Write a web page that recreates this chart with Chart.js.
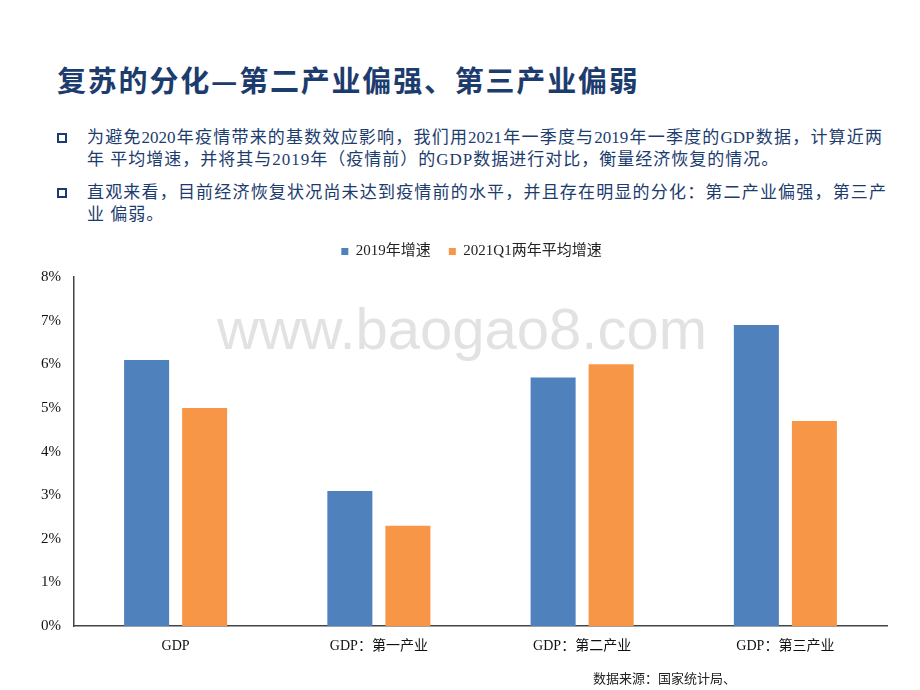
<!DOCTYPE html>
<html>
<head>
<meta charset="utf-8">
<script src="https://cdn.jsdelivr.net/npm/chart.js@4/dist/chart.umd.min.js"></script>
<style>
  html, body { margin: 0; padding: 0; background: #fff; overflow: hidden; }
  body { width: 920px; height: 690px; position: relative; }
  .title {
    position: absolute; left: 57px; top: 58px;
    font: bold 29px "Noto Sans CJK SC", sans-serif; color: #1d3c6e;
    white-space: nowrap; letter-spacing: 1.8px;
  }
  .bullet {
    position: absolute; left: 57px; width: 6px; height: 6px;
    border: 2px solid #1d3c6e;
  }
  .line {
    position: absolute; left: 87px;
    font: 17px "Liberation Serif", "Noto Sans CJK SC", serif; color: #1d3c6e;
    white-space: nowrap; line-height: 20px; letter-spacing: 1px;
  }
  .just { width: 795px; text-align: justify; text-align-last: justify; letter-spacing: 0; }
  .watermark {
    position: absolute; left: 217px; top: 295px;
    font: 58px "Liberation Sans", Arial, sans-serif; color: rgba(190,190,190,0.45);
    white-space: nowrap; pointer-events: none;
  }
  .source {
    position: absolute; left: 593px; top: 668px;
    font: 13px "Noto Sans CJK SC", sans-serif; color: #222;
    white-space: nowrap;
  }
  #wrap { position: absolute; left: 22px; top: 226px; width: 898px; height: 450px; }
</style>
</head>
<body>
<div class="title">复苏的分化—第二产业偏强、第三产业偏弱</div>

<div class="bullet" style="top:133px"></div>
<div class="line just" style="top:128px">为避免2020年疫情带来的基数效应影响，我们用2021年一季度与2019年一季度的GDP数据，计算近两</div>
<div class="line" style="top:150px">年 平均增速，并将其与2019年（疫情前）的GDP数据进行对比，衡量经济恢复的情况。</div>

<div class="bullet" style="top:188px"></div>
<div class="line just" style="top:183px; width:799px">直观来看，目前经济恢复状况尚未达到疫情前的水平，并且存在明显的分化：第二产业偏强，第三产</div>
<div class="line" style="top:205px">业 偏弱。</div>

<div id="wrap"><canvas id="chart"></canvas></div>
<div class="watermark">www.baogao8.com</div>
<div class="source">数据来源：国家统计局、</div>

<script>
const categories = ['GDP', 'GDP：第一产业', 'GDP：第二产业', 'GDP：第三产业'];
const growth2019 = [6.1, 3.1, 5.7, 6.9];
const avg2021Q1 = [5.0, 2.3, 6.0, 4.7];
const yTicks = [0, 1, 2, 3, 4, 5, 6, 7, 8];

const SERIF = '"Liberation Serif", "Noto Sans CJK SC", serif';

// extra room under the legend, and nudge it right of the canvas centre
const legendTweak = {
    id: 'legendTweak',
    beforeInit(chart) {
        const fit = chart.legend.fit;
        chart.legend.fit = function () {
            fit.bind(chart.legend)();
            this.height += 8;
        };
    },
    afterLayout(chart) {
        chart.legend.left += 17;
        chart.legend.right += 17;
    }
};

const ctx = document.getElementById('chart');
new Chart(ctx, {
    type: 'bar',
    data: {
        labels: categories,
        datasets: [
            { label: '2019年增速', data: growth2019, backgroundColor: '#4f81bd' },
            { label: '2021Q1两年平均增速', data: avg2021Q1, backgroundColor: '#f79646' }
        ]
    },
    options: {
        responsive: true,
        maintainAspectRatio: false,
        animation: false,
        layout: { padding: { left: 0, right: 33, top: 0, bottom: 17 } },
        datasets: { bar: { categoryPercentage: 0.571, barPercentage: 0.776 } },
        plugins: {
            tooltip: { enabled: false },
            legend: {
                position: 'top',
                labels: {
                    boxWidth: 7, boxHeight: 7, padding: 18,
                    color: '#222',
                    font: { family: SERIF, size: 15 }
                }
            }
        },
        scales: {
            x: {
                grid: { display: false },
                border: { display: true, color: '#444', width: 1.5 },
                ticks: { color: '#111', padding: 4, font: { family: SERIF, size: 14 } }
            },
            y: {
                min: 0, max: 8,
                afterBuildTicks: axis => { axis.ticks = yTicks.map(v => ({ value: v })); },
                afterFit: axis => { axis.width = 52; },
                grid: { display: false, drawTicks: false },
                border: { display: true, color: '#444', width: 1.5 },
                ticks: {
                    color: '#111', padding: 13,
                    font: { family: SERIF, size: 15 },
                    callback: v => v + '%'
                }
            }
        }
    },
    plugins: [legendTweak]
});
</script>
</body>
</html>
